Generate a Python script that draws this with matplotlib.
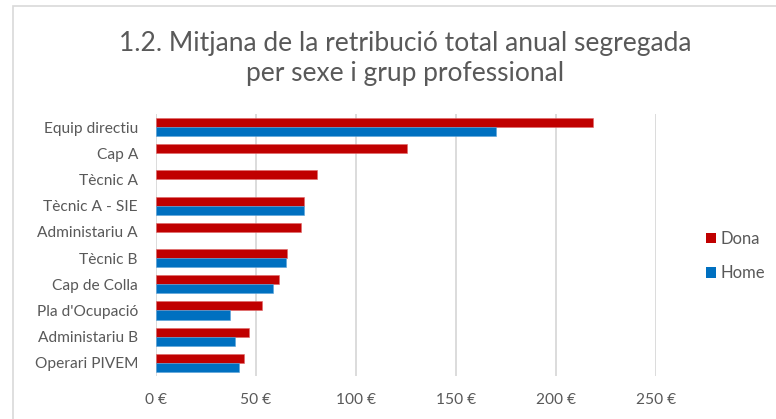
import matplotlib
matplotlib.use("Agg")
import matplotlib.pyplot as plt
from matplotlib.patches import Rectangle, Patch
import numpy as np

# data (euros, thousands shown as €)
categories = ["Equip directiu", "Cap A", "Tècnic A", "Tècnic A - SIE", "Administariu A",
              "Tècnic B", "Cap de Colla", "Pla d'Ocupació", "Administariu B", "Operari PIVEM"]
dona = [218.5, 125.5, 80.7, 74.2, 72.5, 65.5, 61.3, 53.0, 46.7, 43.8]
home = [170.0, np.nan, np.nan, 74.2, np.nan, 65.2, 58.5, 37.0, 39.3, 41.7]
xticks = [0, 50, 100, 150, 200, 250]

red = "#C00000"
blue = "#0070C0"
text_col = "#595959"
grid_col = "#D9D9D9"

plt.rcParams["font.family"] = ["Lato", "DejaVu Sans"]

fig = plt.figure(figsize=(7.76, 4.19), dpi=100)
fig.patches.append(Rectangle((13 / 776, -0.1), 1.2, 1 - 6 / 419 + 0.1,
                             transform=fig.transFigure, fill=False,
                             edgecolor=grid_col, linewidth=1.2))

ax = fig.add_axes([156 / 776, 1 - 376 / 419, 500 / 776, 262 / 419])

y = np.arange(len(categories))
h = 0.345
ax.barh(y - h / 2, dona, height=h, color=red, label="Dona",
        edgecolor="#E06666", linewidth=0.4)
ax.barh(y + h / 2, home, height=h, color=blue, label="Home",
        edgecolor="#5BA3D9", linewidth=0.4)

ax.set_ylim(len(categories) - 0.5, -0.5)
ax.set_xlim(0, 250)
ax.set_yticks(y)
ax.set_yticklabels(categories)
ax.set_xticks(xticks)
ax.set_xticklabels([f"{v} €" for v in xticks])
ax.tick_params(length=0, labelsize=11.2, colors=text_col)
ax.tick_params(axis="y", pad=13)
ax.tick_params(axis="x", pad=12)

ax.grid(axis="x", color=grid_col, linewidth=1.3)
ax.set_axisbelow(True)
for s in ax.spines.values():
    s.set_visible(False)

fig.text(405 / 776, 1 - 44 / 419, "1.2. Mitjana de la retribució total anual segregada",
         ha="center", va="center", fontsize=19, color=text_col)
fig.text(405 / 776, 1 - 74 / 419, "per sexe i grup professional",
         ha="center", va="center", fontsize=19, color=text_col)

handles = [Patch(facecolor=red, label="Dona"), Patch(facecolor=blue, label="Home")]
fig.legend(handles=handles, loc="center left", bbox_to_anchor=(691 / 776, 1 - 256 / 419),
           frameon=False, fontsize=12, labelcolor=text_col, handlelength=0.6,
           handleheight=0.6, handletextpad=0.3, labelspacing=1.1)

fig.savefig("out.png", dpi=100)
